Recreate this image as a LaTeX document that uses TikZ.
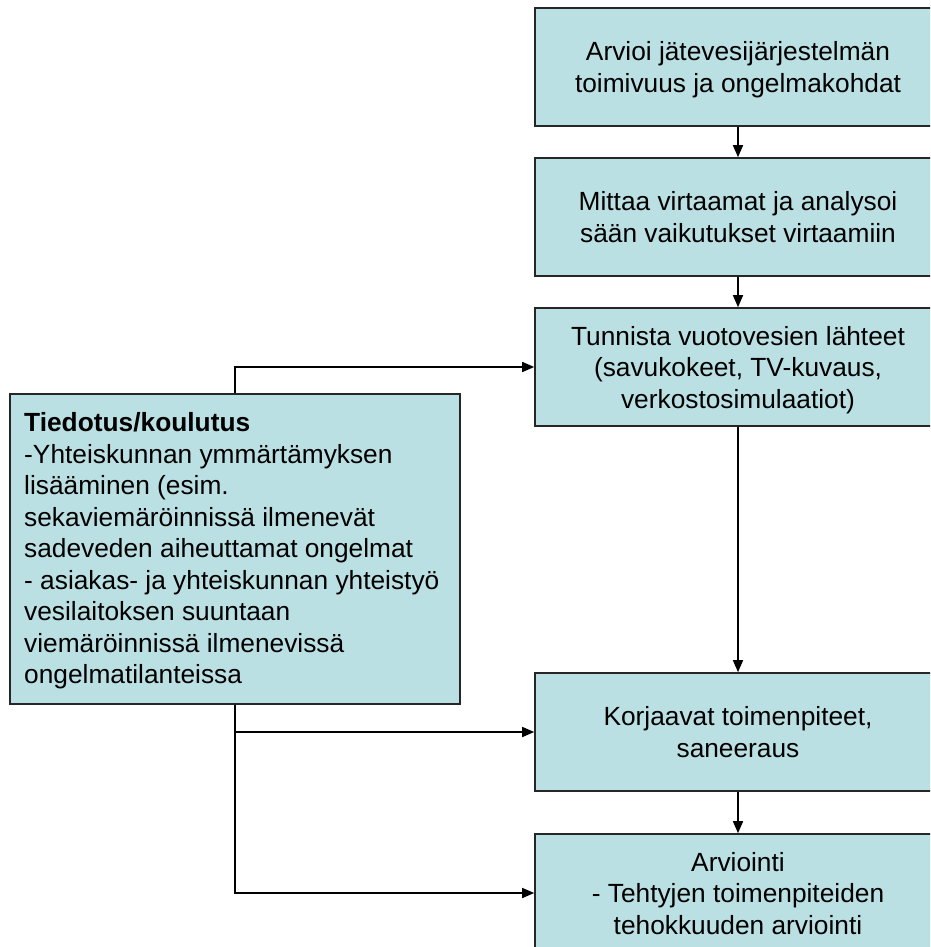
\documentclass[tikz,border=0pt]{standalone}
\usepackage{fontspec}
\setmainfont{Liberation Sans}
\usetikzlibrary{arrows.meta}
\definecolor{boxfill}{RGB}{187,224,227}
\begin{document}
\begin{tikzpicture}[x=1pt,y=-1pt,
  txt/.style={font=\fontsize{26.3}{31.5}\selectfont},
  box/.style={draw=black!85, line width=1.6pt, fill=boxfill, inner sep=0pt, txt},
  stepbox/.style={box, minimum width=406pt, minimum height=118pt, align=center,
    text depth=-4pt},
  infobox/.style={box, minimum width=450pt, minimum height=310pt},
  flow/.style={line width=1.5pt, -{Triangle[length=12pt,width=10pt]}}]
\useasboundingbox (0,0) rectangle (930,947);
\clip (0,0) rectangle (930,947);

% main sequence of steps
\node[stepbox] (s1) at (738,67)  {Arvioi jätevesijärjestelmän\\toimivuus ja ongelmakohdat};
\node[stepbox] (s2) at (738,217) {Mittaa virtaamat ja analysoi\\sään vaikutukset virtaamiin};
\node[stepbox] (s3) at (738,367) {Tunnista vuotovesien lähteet\\(savukokeet, TV-kuvaus,\\verkostosimulaatiot)};
\node[stepbox] (s4) at (738,732) {Korjaavat toimenpiteet,\\saneeraus};
\node[stepbox] (s5) at (738,893) {Arviointi\\- Tehtyjen toimenpiteiden\\tehokkuuden arviointi};

% information and training box, with its text set flush left
\node[infobox] (info) at (235,549) {};
\node[txt, inner sep=0pt, align=left, anchor=west] (infotext) at (24,551) {\textbf{Tiedotus/koulutus}\\
-Yhteiskunnan ymmärtämyksen\\
lisääminen (esim.\\
sekaviemäröinnissä ilmenevät\\
sadeveden aiheuttamat ongelmat\\
- asiakas- ja yhteiskunnan yhteistyö\\
vesilaitoksen suuntaan\\
viemäröinnissä ilmenevissä\\
ongelmatilanteissa};

% connectors
\draw[flow] (s1) -- (s2);
\draw[flow] (s2) -- (s3);
\draw[flow] (s3) -- (s4);
\draw[flow] (s4) -- (s5);
\draw[flow] (info.north) |- (s3.west);
\draw[flow] (info.south) |- (s4.west);
\draw[flow] (info.south) |- (s5.west);
\end{tikzpicture}
\end{document}
